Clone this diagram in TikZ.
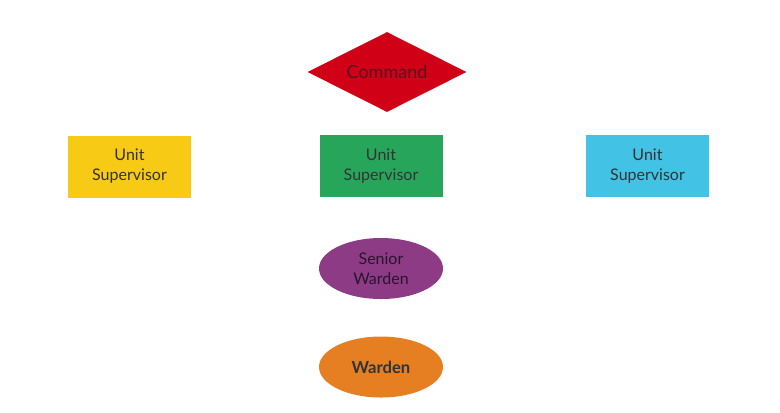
\documentclass[tikz,border=0pt]{standalone}
\usepackage{fontspec}
\setmainfont{Lato}
\usetikzlibrary{shapes.geometric}
\definecolor{cred}{HTML}{D00016}
\definecolor{cyellow}{HTML}{F6CA15}
\definecolor{cgreen}{HTML}{27A55A}
\definecolor{cblue}{HTML}{42C3E6}
\definecolor{cpurple}{HTML}{8E3B86}
\definecolor{corange}{HTML}{E67F22}
\definecolor{ctext}{HTML}{333333}
\begin{document}
\begin{tikzpicture}[x=0.75pt,y=-0.75pt,
  box/.style={rectangle,inner sep=0pt,minimum width=92.25pt,minimum height=46.5pt,align=center,text=ctext,font=\fontsize{12}{15}\selectfont},
  oval/.style={ellipse,inner sep=0pt,minimum width=93pt,minimum height=45.75pt,align=center,text=ctext,font=\fontsize{12}{15}\selectfont},
  dia/.style={diamond,aspect=2,inner sep=0pt,minimum width=119.25pt,minimum height=60pt,font=\fontsize{13.5}{15}\selectfont}]
\useasboundingbox (0,0) rectangle (780,412);
\node[dia,fill=cred,text={rgb,255:red,90;green,20;blue,30}] (cmd) at (387,72) {Command};
\node[box,fill=cyellow] (u1) at (129.5,166.5) {Unit\\Supervisor};
\node[box,fill=cgreen] (u2) at (381,166) {Unit\\Supervisor};
\node[box,fill=cblue] (u3) at (647.5,166) {Unit\\Supervisor};
\node[oval,fill=cpurple,text={rgb,255:red,40;green,20;blue,45}] (sw) at (381,268.5) {Senior\\Warden};
\node[oval,fill=corange,font=\fontsize{12.5}{15}\selectfont\bfseries] (w) at (381,367) {Warden};
\end{tikzpicture}
\end{document}
